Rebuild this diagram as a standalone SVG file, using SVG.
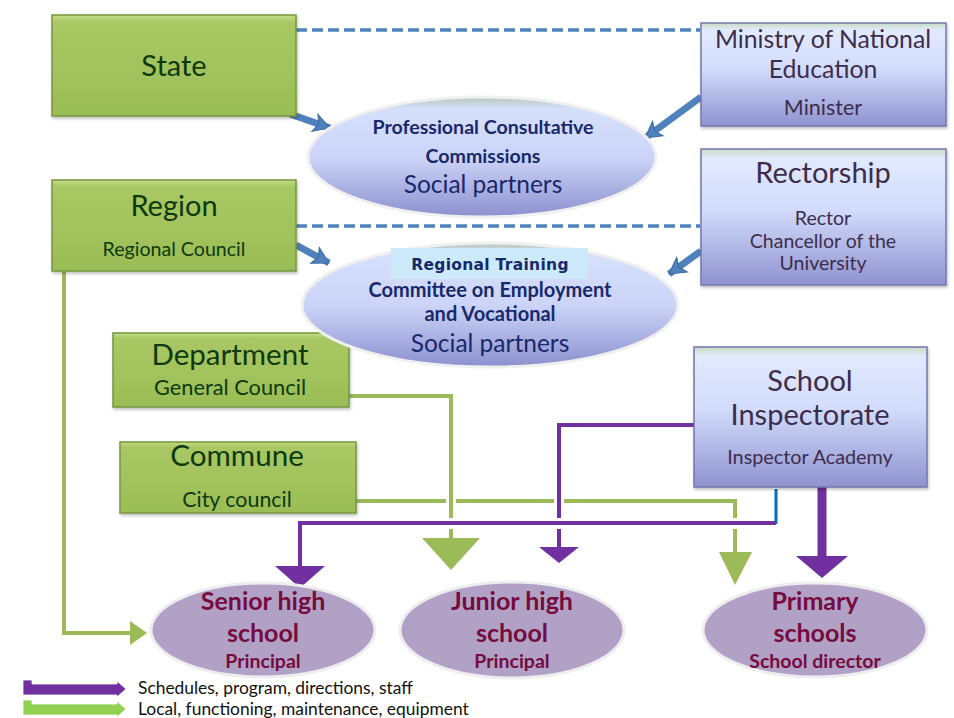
<svg xmlns="http://www.w3.org/2000/svg" width="954" height="718" viewBox="0 0 954 718">
<defs>
<linearGradient id="gGreen" x1="0" y1="0" x2="0" y2="1">
<stop offset="0" stop-color="#c4de8a"/>
<stop offset="0.07" stop-color="#a9c865"/>
<stop offset="1" stop-color="#9bbd55"/>
</linearGradient>
<linearGradient id="gBlue" x1="0" y1="0" x2="0" y2="1">
<stop offset="0" stop-color="#c9dcc0"/>
<stop offset="0.07" stop-color="#e2eaff"/>
<stop offset="0.45" stop-color="#d2dbfb"/>
<stop offset="1" stop-color="#8f92cf"/>
</linearGradient>
<linearGradient id="gEll" x1="0" y1="0" x2="0" y2="1">
<stop offset="0" stop-color="#b7c8bd"/>
<stop offset="0.1" stop-color="#d6dffb"/>
<stop offset="0.5" stop-color="#ccd5f8"/>
<stop offset="1" stop-color="#8c90cf"/>
</linearGradient>
<filter id="sh" x="-10%" y="-10%" width="120%" height="130%">
<feDropShadow dx="1" dy="2" stdDeviation="1.5" flood-color="#000" flood-opacity="0.25"/>
</filter>
<marker id="blueHead" markerUnits="userSpaceOnUse" markerWidth="22" markerHeight="22" viewBox="0 0 22 22" refX="18" refY="11" orient="auto">
<path d="M2,2 L18,11 L2,20 L6,11 Z" fill="#4f81bd" stroke="#3a6aa3" stroke-width="1"/>
</marker>
<style>
.gbox{fill:url(#gGreen);stroke:#76963f;stroke-width:1.5;filter:url(#sh)}
.bbox{fill:url(#gBlue);stroke:#7476ad;stroke-width:1.5;filter:url(#sh)}
.ell{fill:url(#gEll);stroke:#f0f0f0;stroke-width:3}
.sch{fill:#b2a1c7;stroke:#eeeeee;stroke-width:3}
text{font-family:Lato,"Liberation Sans",sans-serif;text-anchor:middle}
.tg{fill:#0c3a0c}
.tb{fill:#3d2d4d}
.te{fill:#17296a}
.ts{fill:#760b3d;font-weight:bold}
.bold{font-weight:bold}
.dash{stroke:#4f81bd;stroke-width:3.5;stroke-dasharray:11 5;fill:none}
.barrow{stroke:#4f81bd;stroke-width:7;fill:none;marker-end:url(#blueHead)}
.gl{stroke:#9bbb59;stroke-width:4;fill:none}
.pl{stroke:#7030a0;stroke-width:4;fill:none}
.gtri{fill:#9bbb59}
.ptri{fill:#7030a0}
.leg{text-anchor:start;fill:#111;font-size:17.4px}
</style>
</defs>

<g id="connectors">
<line class="dash" x1="296" y1="30" x2="700" y2="30"/>
<line class="dash" x1="296" y1="226" x2="700" y2="226"/>
<line class="barrow" x1="290" y1="114" x2="330" y2="128"/>
<line class="barrow" x1="296" y1="245" x2="329" y2="263"/>
<line class="barrow" x1="701" y1="97" x2="645" y2="138"/>
<line class="barrow" x1="701" y1="251" x2="669" y2="274"/>
<!-- green: Region -->
<polyline class="gl" points="64,271 64,633 132,633"/>
<polygon class="gtri" points="130,621 147,633 130,645"/>
<!-- green: Department -->
<polyline class="gl" points="349,396 451,396 451,518"/>
<line class="gl" x1="451" y1="529" x2="451" y2="540"/>
<polygon class="gtri" points="422,538 480,538 451,570"/>
<!-- green: Commune -->
<line class="gl" x1="356" y1="501" x2="446" y2="501"/>
<line class="gl" x1="456" y1="501" x2="554" y2="501"/>
<polyline class="gl" points="564,501 735,501 735,518"/>
<line class="gl" x1="735" y1="529" x2="735" y2="554"/>
<polygon class="gtri" points="719,552 752,552 735,585"/>
<!-- purple: Inspectorate left -->
<polyline class="pl" points="694,425 559,425 559,518"/>
<line class="pl" x1="559" y1="529" x2="559" y2="549"/>
<polygon class="ptri" points="539,547 579,547 559,563"/>
<!-- purple: Inspectorate bottom to senior high -->
<line stroke="#0070c0" stroke-width="3" x1="776" y1="489" x2="776" y2="524"/>
<polyline class="pl" points="776,523 300,523 300,568"/>
<polygon class="ptri" points="275,566 325,566 300,588"/>
<!-- purple thick: Inspectorate to primary -->
<line stroke="#7030a0" stroke-width="9" x1="822" y1="487" x2="822" y2="558"/>
<polygon class="ptri" points="796,556 848,556 822,578"/>
</g>

<g id="state"><rect class="gbox" x="52" y="15" width="244" height="101"/>
<text class="tg" x="174" y="76" font-size="29">State</text></g>

<g id="region"><rect class="gbox" x="52" y="180" width="244" height="91"/>
<text class="tg" x="174" y="216" font-size="29">Region</text>
<text class="tg" x="174" y="256" font-size="19.6">Regional Council</text></g>

<g id="department"><rect class="gbox" x="113" y="333" width="236" height="74"/>
<text class="tg" x="230" y="365" font-size="29.5">Department</text>
<text class="tg" x="230" y="395" font-size="21.8">General Council</text></g>

<g id="commune"><rect class="gbox" x="120" y="442" width="236" height="71"/>
<text class="tg" x="237" y="466" font-size="29.6">Commune</text>
<text class="tg" x="237" y="507" font-size="21.4">City council</text></g>

<g id="ministry"><rect class="bbox" x="701" y="23" width="245" height="103"/>
<text class="tb" x="823" y="48" font-size="24.8">Ministry of National</text>
<text class="tb" x="823" y="78" font-size="24.8">Education</text>
<text class="tb" x="823" y="115" font-size="21.5">Minister</text></g>

<g id="rectorship"><rect class="bbox" x="701" y="149" width="245" height="136"/>
<text class="tb" x="823" y="183" font-size="29">Rectorship</text>
<text class="tb" x="823" y="225" font-size="19.5">Rector</text>
<text class="tb" x="823" y="248" font-size="19.5">Chancellor of the</text>
<text class="tb" x="823" y="270" font-size="19.5">University</text></g>

<g id="inspectorate"><rect class="bbox" x="694" y="347" width="233" height="140"/>
<text class="tb" x="810" y="391" font-size="29">School</text>
<text class="tb" x="810" y="425" font-size="29">Inspectorate</text>
<text class="tb" x="810" y="464" font-size="19.8">Inspector Academy</text></g>

<g id="commissions"><ellipse class="ell" cx="482" cy="157" rx="174" ry="60"/>
<text class="te bold" x="483" y="134" font-size="19.6">Professional Consultative</text>
<text class="te bold" x="483" y="163" font-size="19.6">Commissions</text>
<text class="te" x="483" y="193" font-size="24.5">Social partners</text></g>

<g id="committee"><ellipse class="ell" cx="490" cy="305" rx="188" ry="62"/>
<rect x="391" y="248" width="197" height="31" fill="#cdeafb"/>
<text class="te" x="490" y="270" font-size="15.5" font-weight="bold" letter-spacing="0.3" style="font-family:'DejaVu Sans',sans-serif">Regional Training</text>
<text class="te bold" x="490" y="297" font-size="20">Committee on Employment</text>
<text class="te bold" x="490" y="321" font-size="20">and Vocational</text>
<text class="te" x="490" y="352" font-size="24.5">Social partners</text></g>

<g id="senior"><ellipse class="sch" cx="263" cy="630" rx="112" ry="47"/>
<text class="ts" x="263" y="610" font-size="25">Senior high</text>
<text class="ts" x="263" y="642" font-size="25">school</text>
<text class="ts" x="263" y="668" font-size="19.5">Principal</text></g>

<g id="junior"><ellipse class="sch" cx="512" cy="630" rx="112" ry="48"/>
<text class="ts" x="512" y="610" font-size="25">Junior high</text>
<text class="ts" x="512" y="642" font-size="25">school</text>
<text class="ts" x="512" y="668" font-size="19.5">Principal</text></g>

<g id="primary"><ellipse class="sch" cx="815" cy="630" rx="112" ry="47"/>
<text class="ts" x="815" y="610" font-size="25">Primary</text>
<text class="ts" x="815" y="642" font-size="25">schools</text>
<text class="ts" x="815" y="668" font-size="19.5">School director</text></g>

<g id="legend">
<polygon points="23,680 32,680 32,684 117,684 117,681 126,689 117,697 117,695 23,695" fill="#7030a0" stroke="#ffffff" stroke-width="0.8"/>
<text class="leg" x="138" y="694">Schedules, program, directions, staff</text>
<polygon points="23,700 32,700 32,704 117,704 117,701 126,709 117,717 117,715 23,715" fill="#92d050" stroke="#ffffff" stroke-width="0.8"/>
<text class="leg" x="138" y="715">Local, functioning, maintenance, equipment</text>
</g>
</svg>
